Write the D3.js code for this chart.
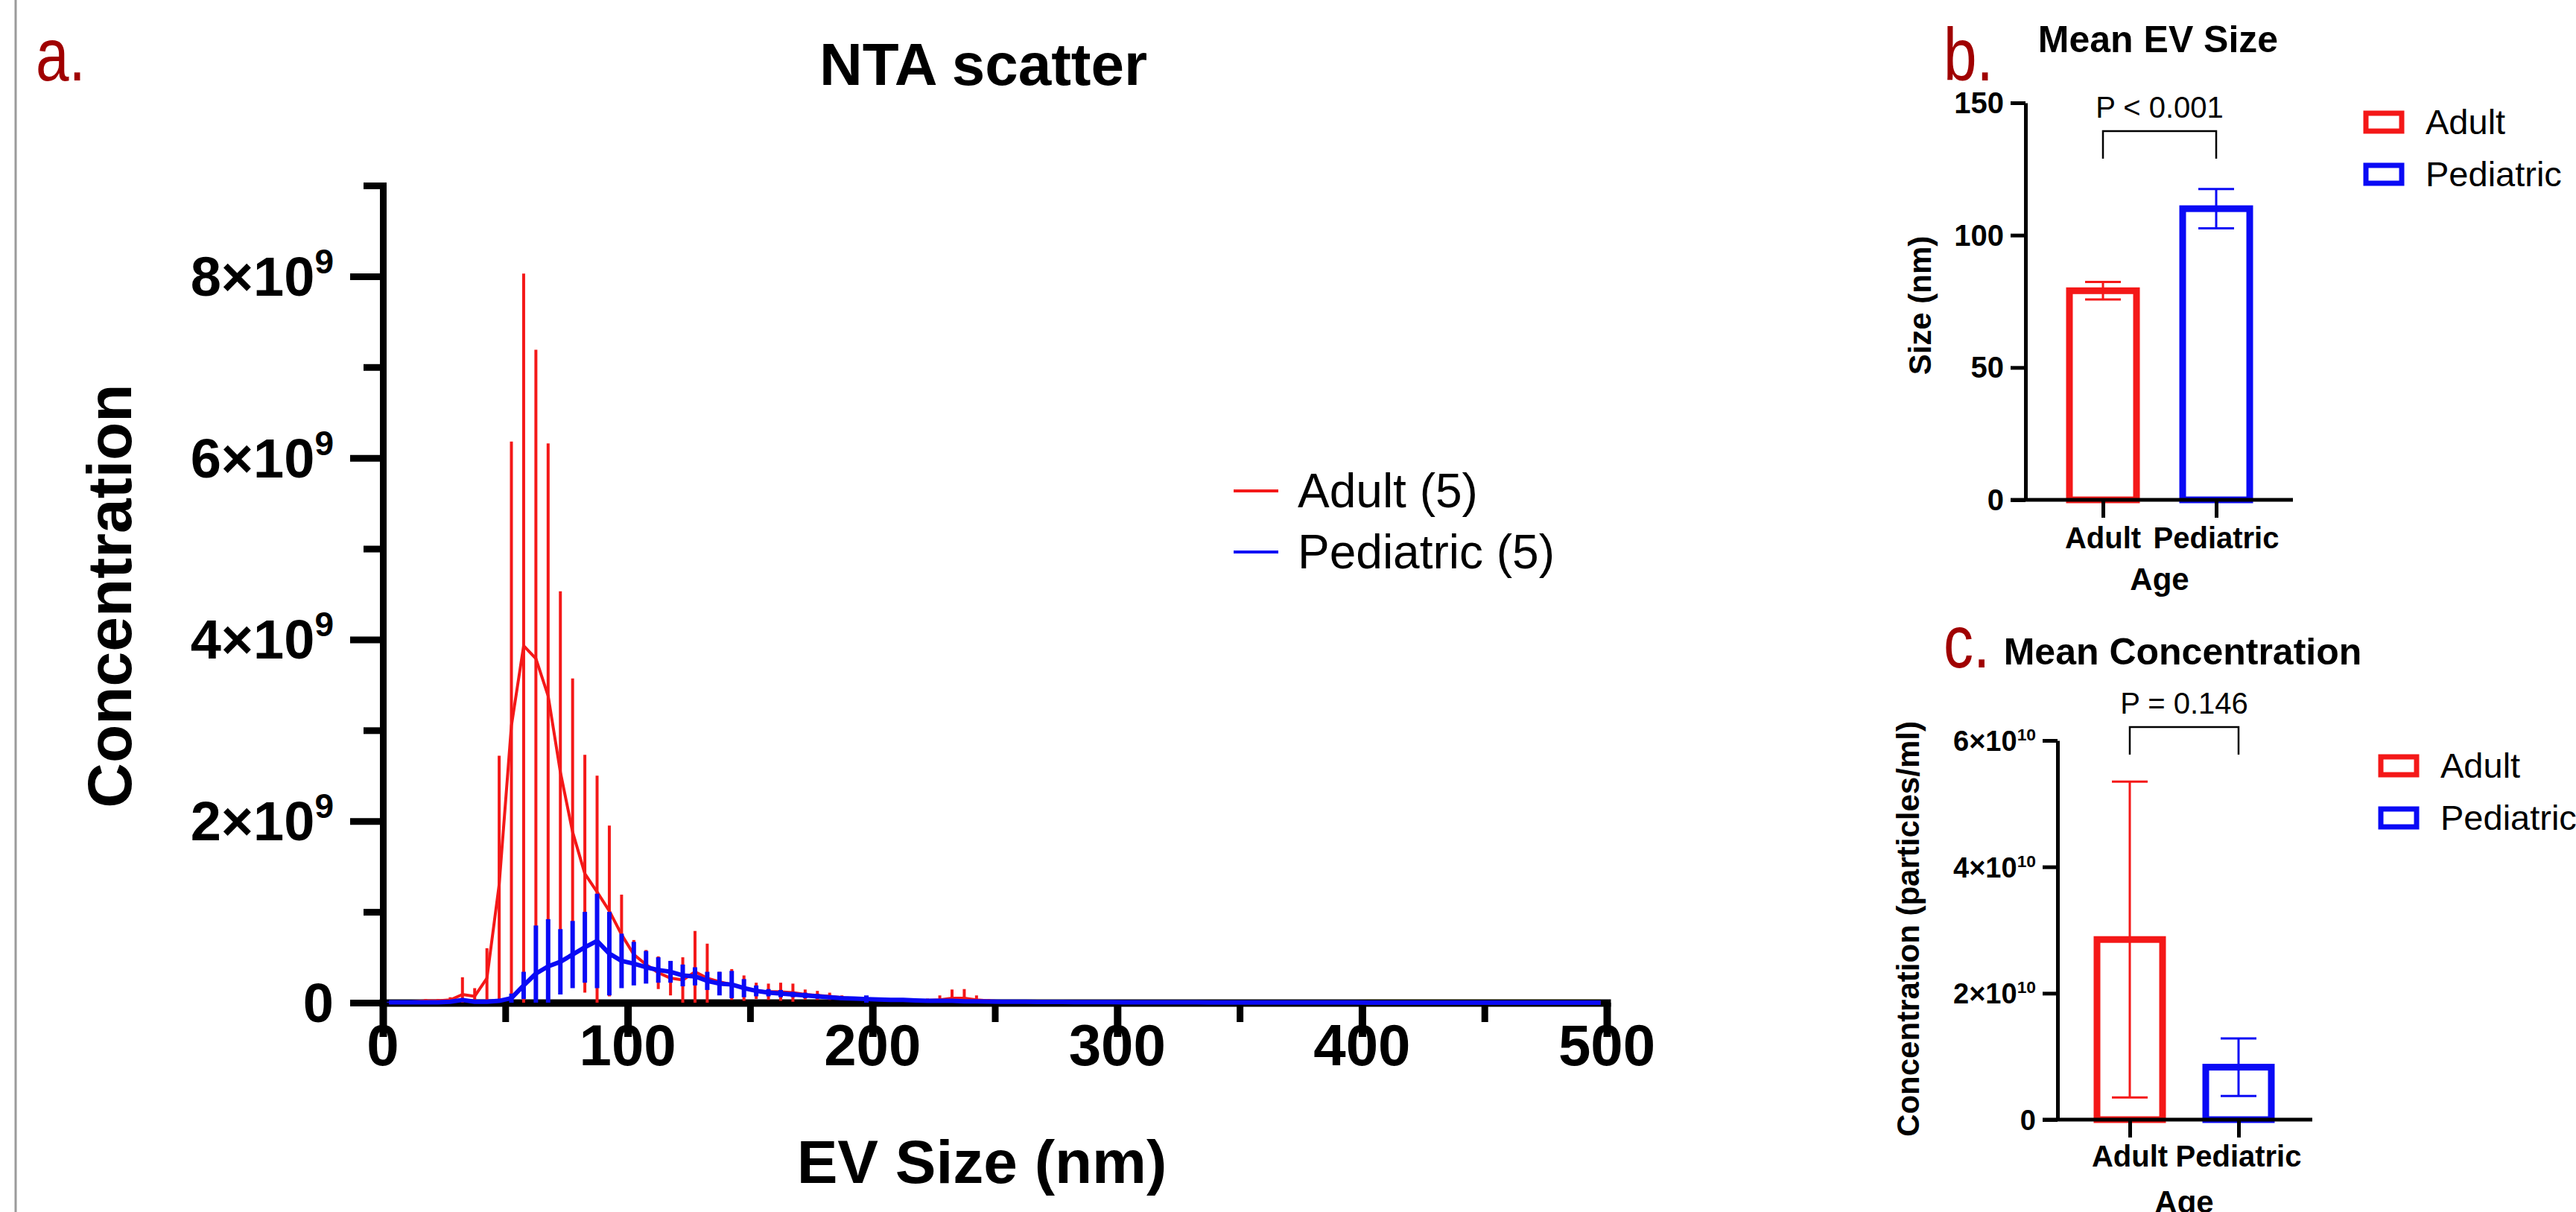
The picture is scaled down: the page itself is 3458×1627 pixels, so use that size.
<!DOCTYPE html>
<html><head><meta charset="utf-8">
<script src="https://cdnjs.cloudflare.com/ajax/libs/d3/7.8.5/d3.min.js"></script>
<style>
body{margin:0;background:#fff;}
svg{display:block;}
text{font-family:"Liberation Sans",Arial,sans-serif;}
</style>
</head><body>
<script>
// ---------- Panel a data (EV size in nm, concentration in units of 1e9) ----------
const evSizes = [2.5,7.5,12.5,17.5,22.5,27.5,32.5,37.5,42.5,47.5,52.5,57.5,62.5,67.5,72.5,77.5,82.5,87.5,92.5,97.5,
 102.5,107.5,112.5,117.5,122.5,127.5,132.5,137.5,142.5,147.5,152.5,157.5,162.5,167.5,172.5,177.5,182.5,187.5,192.5,197.5,
 202.5,207.5,212.5,217.5,222.5,227.5,232.5,237.5,242.5,247.5,252.5,257.5,262.5,267.5,272.5,277.5,282.5,287.5,292.5,297.5,
 302.5,307.5,312.5,317.5,322.5,327.5,332.5,337.5,342.5,347.5,352.5,357.5,362.5,367.5,372.5,377.5,382.5,387.5,392.5,397.5,
 402.5,407.5,412.5,417.5,422.5,427.5,432.5,437.5,442.5,447.5,452.5,457.5,462.5,467.5,472.5,477.5,482.5,487.5,492.5,497.5];
const adultMean = [0,0,0.01,0.02,0.02,0.03,0.09,0.07,0.27,1.30,3.05,3.93,3.79,3.38,2.54,1.88,1.42,1.22,1.01,0.75,
 0.53,0.42,0.33,0.27,0.25,0.34,0.27,0.23,0.20,0.16,0.13,0.12,0.12,0.11,0.09,0.08,0.07,0.055,0.045,0.04,
 0.035,0.03,0.025,0.025,0.025,0.03,0.05,0.05,0.03,0.02,0.015,0.012,0.01,0.01,0.009,0.008,0.007,0.006,0.006,0.005,
 0.005,0.004,0.004,0.004,0.003,0.003,0.003,0.003,0.002,0.002,0.002,0.002,0.002,0.002,0.001,0.001,0.001,0.001,0.001,0.001,
 0.001,0.001,0.001,0.001,0.001,0.001,0.001,0.001,0.001,0.001,0,0,0,0,0,0,0,0,0,0];
const adultSD = [0,0,0.01,0.02,0.02,0.03,0.19,0.09,0.33,1.42,3.13,4.10,3.40,2.78,1.99,1.69,1.31,1.28,0.94,0.44,
 0.16,0.16,0.18,0.19,0.25,0.45,0.38,0.11,0.17,0.14,0.09,0.09,0.10,0.10,0.055,0.05,0.04,0.025,0.015,0.01,
 0.01,0.01,0.01,0.01,0.02,0.05,0.095,0.10,0.05,0.02,0.01,0.01,0.008,0.008,0.007,0.006,0.005,0.005,0.004,0.004,
 0.004,0.003,0.003,0.003,0.003,0.002,0.002,0.002,0.002,0.002,0.002,0.002,0.001,0.001,0.001,0.001,0.001,0.001,0.001,0.001,
 0.001,0.001,0.001,0.001,0.001,0.001,0.001,0.001,0.001,0.001,0,0,0,0,0,0,0,0,0,0];
const pedMean = [0.005,0.005,0.005,0.005,0.005,0.01,0.03,0.01,0.01,0.02,0.05,0.19,0.32,0.40,0.45,0.53,0.61,0.68,0.54,0.46,
 0.43,0.39,0.36,0.34,0.30,0.29,0.24,0.21,0.20,0.16,0.13,0.11,0.10,0.09,0.08,0.07,0.06,0.05,0.045,0.04,
 0.035,0.03,0.03,0.025,0.02,0.02,0.02,0.015,0.015,0.012,0.01,0.01,0.01,0.009,0.008,0.008,0.007,0.007,0.006,0.006,
 0.005,0.005,0.005,0.004,0.004,0.004,0.004,0.003,0.003,0.003,0.003,0.003,0.002,0.002,0.002,0.002,0.002,0.002,0.002,0.002,
 0.001,0.001,0.001,0.001,0.001,0.001,0.001,0.001,0.001,0.001,0.001,0.001,0.001,0.001,0.001,0,0,0,0,0];
const pedSD = [0.005,0.005,0.005,0.005,0.005,0.005,0.02,0.01,0.01,0.01,0.05,0.15,0.53,0.52,0.36,0.37,0.39,0.52,0.46,0.30,
 0.24,0.18,0.14,0.12,0.12,0.10,0.10,0.13,0.15,0.10,0.06,0.04,0.04,0.03,0.03,0.025,0.02,0.02,0.02,0.04,
 0.015,0.015,0.012,0.012,0.01,0.01,0.01,0.01,0.01,0.008,0.008,0.008,0.007,0.007,0.006,0.006,0.005,0.005,0.005,0.004,
 0.004,0.004,0.004,0.003,0.003,0.003,0.003,0.003,0.002,0.002,0.002,0.002,0.002,0.002,0.002,0.002,0.001,0.001,0.001,0.001,
 0.001,0.001,0.001,0.001,0.001,0.001,0.001,0.001,0.001,0.001,0.001,0.001,0.001,0.001,0.001,0,0,0,0,0];
const xMajorA = [0,100,200,300,400,500];
const xMinorA = [50,150,250,350,450];
const yMajorA = [0,2,4,6,8];
const yMinorA = [1,3,5,7,9];
const yMajorBaseA = ["0","2×10","4×10","6×10","8×10"];
const yMajorExpA = ["","9","9","9","9"];
const legendA = ["Adult (5)","Pediatric (5)"];

// ---------- Panel b / c data ----------
const ageGroups = ["Adult","Pediatric"];
const sizeMean = [79, 110];
const sizeSD = [3.3, 7.4];
const sizeTicks = [0,50,100,150];
const concMean = [2.85, 0.83];   // units of 1e10 particles/ml
const concSD = [2.5, 0.455];
const concTicks = [0,2,4,6];
const concTickBase = ["0","2×10","4×10","6×10"];
const concTickExp = ["","10","10","10"];
const pSize = "P < 0.001";
const pConc = "P = 0.146";

const RED = "#f41818", BLUE = "#0a0af5", LABEL = "#a00000";
const W = 3458, H = 1627;
const svg = d3.select("body").append("svg").attr("width", W).attr("height", H);

svg.append("line").attr("x1",21).attr("x2",21).attr("y1",0).attr("y2",H).attr("stroke","#9a9a9a").attr("stroke-width",3);

function panelLetter(t, x, y){
  svg.append("text").attr("transform",`translate(${x},${y}) scale(0.8,1)`).attr("font-size",100)
    .attr("fill",LABEL).text(t);
}
panelLetter("a.", 48, 108);
panelLetter("b.", 2609, 108);
panelLetter("c.", 2609, 896);

function styleAxis(g, w){
  g.selectAll("path,line").attr("stroke","#000").attr("stroke-width",w);
  g.selectAll("text").remove();
}

// ================= Panel a =================
const xA = d3.scaleLinear().domain([0,500]).range([514,2157]);
const yA = d3.scaleLinear().domain([0,9]).range([1346,249]);
const gA = svg.append("g");

gA.append("text").attr("x",1320).attr("y",114).attr("text-anchor","middle")
  .attr("font-size",80).attr("font-weight","bold").text("NTA scatter");

let ax = gA.append("g").attr("transform",`translate(${xA(0)},0)`)
  .call(d3.axisLeft(yA).tickValues(yMajorA).tickSize(44).tickSizeOuter(0).tickFormat(""));
styleAxis(ax, 9); ax.select("path").attr("stroke-linecap","square");
ax = gA.append("g").attr("transform",`translate(${xA(0)},0)`)
  .call(d3.axisLeft(yA).tickValues(yMinorA).tickSize(26).tickSizeOuter(0).tickFormat(""));
styleAxis(ax, 9); ax.select("path").remove();
ax = gA.append("g").attr("transform",`translate(0,${yA(0)})`)
  .call(d3.axisBottom(xA).tickValues(xMajorA).tickSize(46).tickSizeOuter(0).tickFormat(""));
styleAxis(ax, 10); ax.select("path").attr("stroke-linecap","square");
ax = gA.append("g").attr("transform",`translate(0,${yA(0)})`)
  .call(d3.axisBottom(xA).tickValues(xMinorA).tickSize(26).tickSizeOuter(0).tickFormat(""));
styleAxis(ax, 9); ax.select("path").remove();

yMajorA.forEach((v,i)=>{
  const t = gA.append("text").attr("x", xA(0)-66).attr("y", yA(v)+26).attr("text-anchor","end")
    .attr("font-size",74).attr("font-weight","bold");
  t.append("tspan").text(yMajorBaseA[i]);
  if (yMajorExpA[i]) t.append("tspan").attr("font-size",46).attr("dy",-30).text(yMajorExpA[i]);
});
xMajorA.forEach(v=>{
  gA.append("text").attr("x", xA(v)).attr("y", 1430).attr("text-anchor","middle")
    .attr("font-size",78).attr("font-weight","bold").text(v);
});
gA.append("text").attr("x",1318).attr("y",1588).attr("text-anchor","middle")
  .attr("font-size",82).attr("font-weight","bold").text("EV Size (nm)");
gA.append("text").attr("transform",`translate(176,800) rotate(-90)`).attr("text-anchor","middle")
  .attr("font-size",84).attr("font-weight","bold").text("Concentration");

function drawSeries(mean, sd, color, barW, lineW){
  const pts = evSizes.map((s,i)=>({s, m:mean[i], sd:sd[i]}));
  gA.append("g").selectAll("line").data(pts.filter(d=>d.sd>0)).join("line")
    .attr("x1",d=>xA(d.s)).attr("x2",d=>xA(d.s))
    .attr("y1",d=>yA(Math.max(0,d.m-d.sd))).attr("y2",d=>yA(Math.min(9,d.m+d.sd)))
    .attr("stroke",color).attr("stroke-width",barW);
  gA.append("path").datum(pts)
    .attr("d", d3.line().x(d=>xA(d.s)).y(d=>yA(d.m)))
    .attr("fill","none").attr("stroke",color).attr("stroke-width",lineW).attr("stroke-linejoin","round");
}
drawSeries(adultMean, adultSD, RED, 4, 4);
drawSeries(pedMean, pedSD, BLUE, 6, 6);

// legend a
[RED, BLUE].forEach((c,i)=>{
  const y = 659 + i*82;
  gA.append("line").attr("x1",1656).attr("x2",1716).attr("y1",y).attr("y2",y).attr("stroke",c).attr("stroke-width",4);
  gA.append("text").attr("x",1742).attr("y",y+22).attr("font-size",64).text(legendA[i]);
});

// ================= Bar panels =================
function barPanel(o){
  const g = svg.append("g");
  const x = d3.scalePoint().domain(ageGroups).range(o.xr);
  const y = d3.scaleLinear().domain(o.yd).range(o.yr);
  g.append("text").attr("x",o.titleX).attr("y",o.titleY).attr("text-anchor","middle")
    .attr("font-size",50).attr("font-weight","bold").text(o.title);
  const cols = [RED, BLUE];
  ageGroups.forEach((c,i)=>{
    g.append("rect").attr("x",x(c)-o.bw/2).attr("y",y(o.mean[i])).attr("width",o.bw)
      .attr("height",y(0)-y(o.mean[i])).attr("fill","#fff").attr("stroke",cols[i]).attr("stroke-width",9);
  });
  ageGroups.forEach((c,i)=>{
    const top = y(o.mean[i]+o.sd[i]), bot = y(Math.max(0,o.mean[i]-o.sd[i]));
    g.append("line").attr("x1",x(c)).attr("x2",x(c)).attr("y1",top).attr("y2",bot).attr("stroke",cols[i]).attr("stroke-width",3);
    [top,bot].forEach(yy=>g.append("line").attr("x1",x(c)-24).attr("x2",x(c)+24).attr("y1",yy).attr("y2",yy)
      .attr("stroke",cols[i]).attr("stroke-width",3));
  });
  let a = g.append("g").attr("transform",`translate(${o.axisX},0)`)
    .call(d3.axisLeft(y).tickValues(o.ticks).tickSize(20).tickSizeOuter(0).tickFormat(""));
  styleAxis(a, 5);
  g.append("line").attr("x1",o.axisX-20).attr("x2",o.xEnd).attr("y1",y(0)).attr("y2",y(0)).attr("stroke","#000").attr("stroke-width",5);
  a = g.append("g").attr("transform",`translate(0,${y(0)})`)
    .call(d3.axisBottom(x).tickSize(24).tickSizeOuter(0).tickFormat(""));
  styleAxis(a, 5); a.select("path").remove();
  o.ticks.forEach((v,i)=>{
    const t = g.append("text").attr("x",o.axisX-29).attr("y",y(v)+14).attr("text-anchor","end")
      .attr("font-size",o.tickFs).attr("font-weight","bold");
    t.append("tspan").text(o.tickBase[i]);
    if (o.tickExp && o.tickExp[i]) t.append("tspan").attr("font-size",o.tickFs*0.6).attr("dy",-14).text(o.tickExp[i]);
  });
  ageGroups.forEach(c=>{
    g.append("text").attr("x",x(c)).attr("y",o.catY).attr("text-anchor","middle")
      .attr("font-size",40).attr("font-weight","bold").text(c);
  });
  g.append("text").attr("x",(o.xr[0]+o.xr[1])/2).attr("y",o.ageY).attr("text-anchor","middle")
    .attr("font-size",42).attr("font-weight","bold").text("Age");
  g.append("text").attr("transform",`translate(${o.ylabX},${o.ylabY}) rotate(-90)`).attr("text-anchor","middle")
    .attr("font-size",42).attr("font-weight","bold").text(o.ylab);
  g.append("path").attr("d",`M${x("Adult")},${o.brY+37}V${o.brY}H${x("Pediatric")}V${o.brY+37}`)
    .attr("fill","none").attr("stroke","#000").attr("stroke-width",2.5);
  g.append("text").attr("x",(o.xr[0]+o.xr[1])/2).attr("y",o.brY-18).attr("text-anchor","middle")
    .attr("font-size",40).text(o.p);
  ageGroups.forEach((c,i)=>{
    const yy = o.legY + i*70;
    g.append("rect").attr("x",o.legX).attr("y",yy-12).attr("width",48).attr("height",24)
      .attr("fill","#fff").attr("stroke",cols[i]).attr("stroke-width",7);
    g.append("text").attr("x",o.legX+80).attr("y",yy+16).attr("font-size",47).text(c);
  });
}

barPanel({title:"Mean EV Size", titleX:2897, titleY:70, xr:[2823,2975], yd:[0,150], yr:[671,138],
  bw:90, mean:sizeMean, sd:sizeSD, ticks:sizeTicks, tickBase:sizeTicks.map(String), tickFs:40,
  axisX:2719, xEnd:3078, catY:736, ageY:792, ylab:"Size (nm)", ylabX:2592, ylabY:410,
  brY:176, p:pSize, legX:3176, legY:164});

barPanel({title:"Mean Concentration", titleX:2930, titleY:892, xr:[2859,3005], yd:[0,6], yr:[1503,994],
  bw:88, mean:concMean, sd:concSD, ticks:concTicks, tickBase:concTickBase, tickExp:concTickExp, tickFs:38,
  axisX:2762, xEnd:3104, catY:1566, ageY:1628, ylab:"Concentration (particles/ml)", ylabX:2576, ylabY:1247,
  brY:976, p:pConc, legX:3196, legY:1028});
</script>
</body></html>
